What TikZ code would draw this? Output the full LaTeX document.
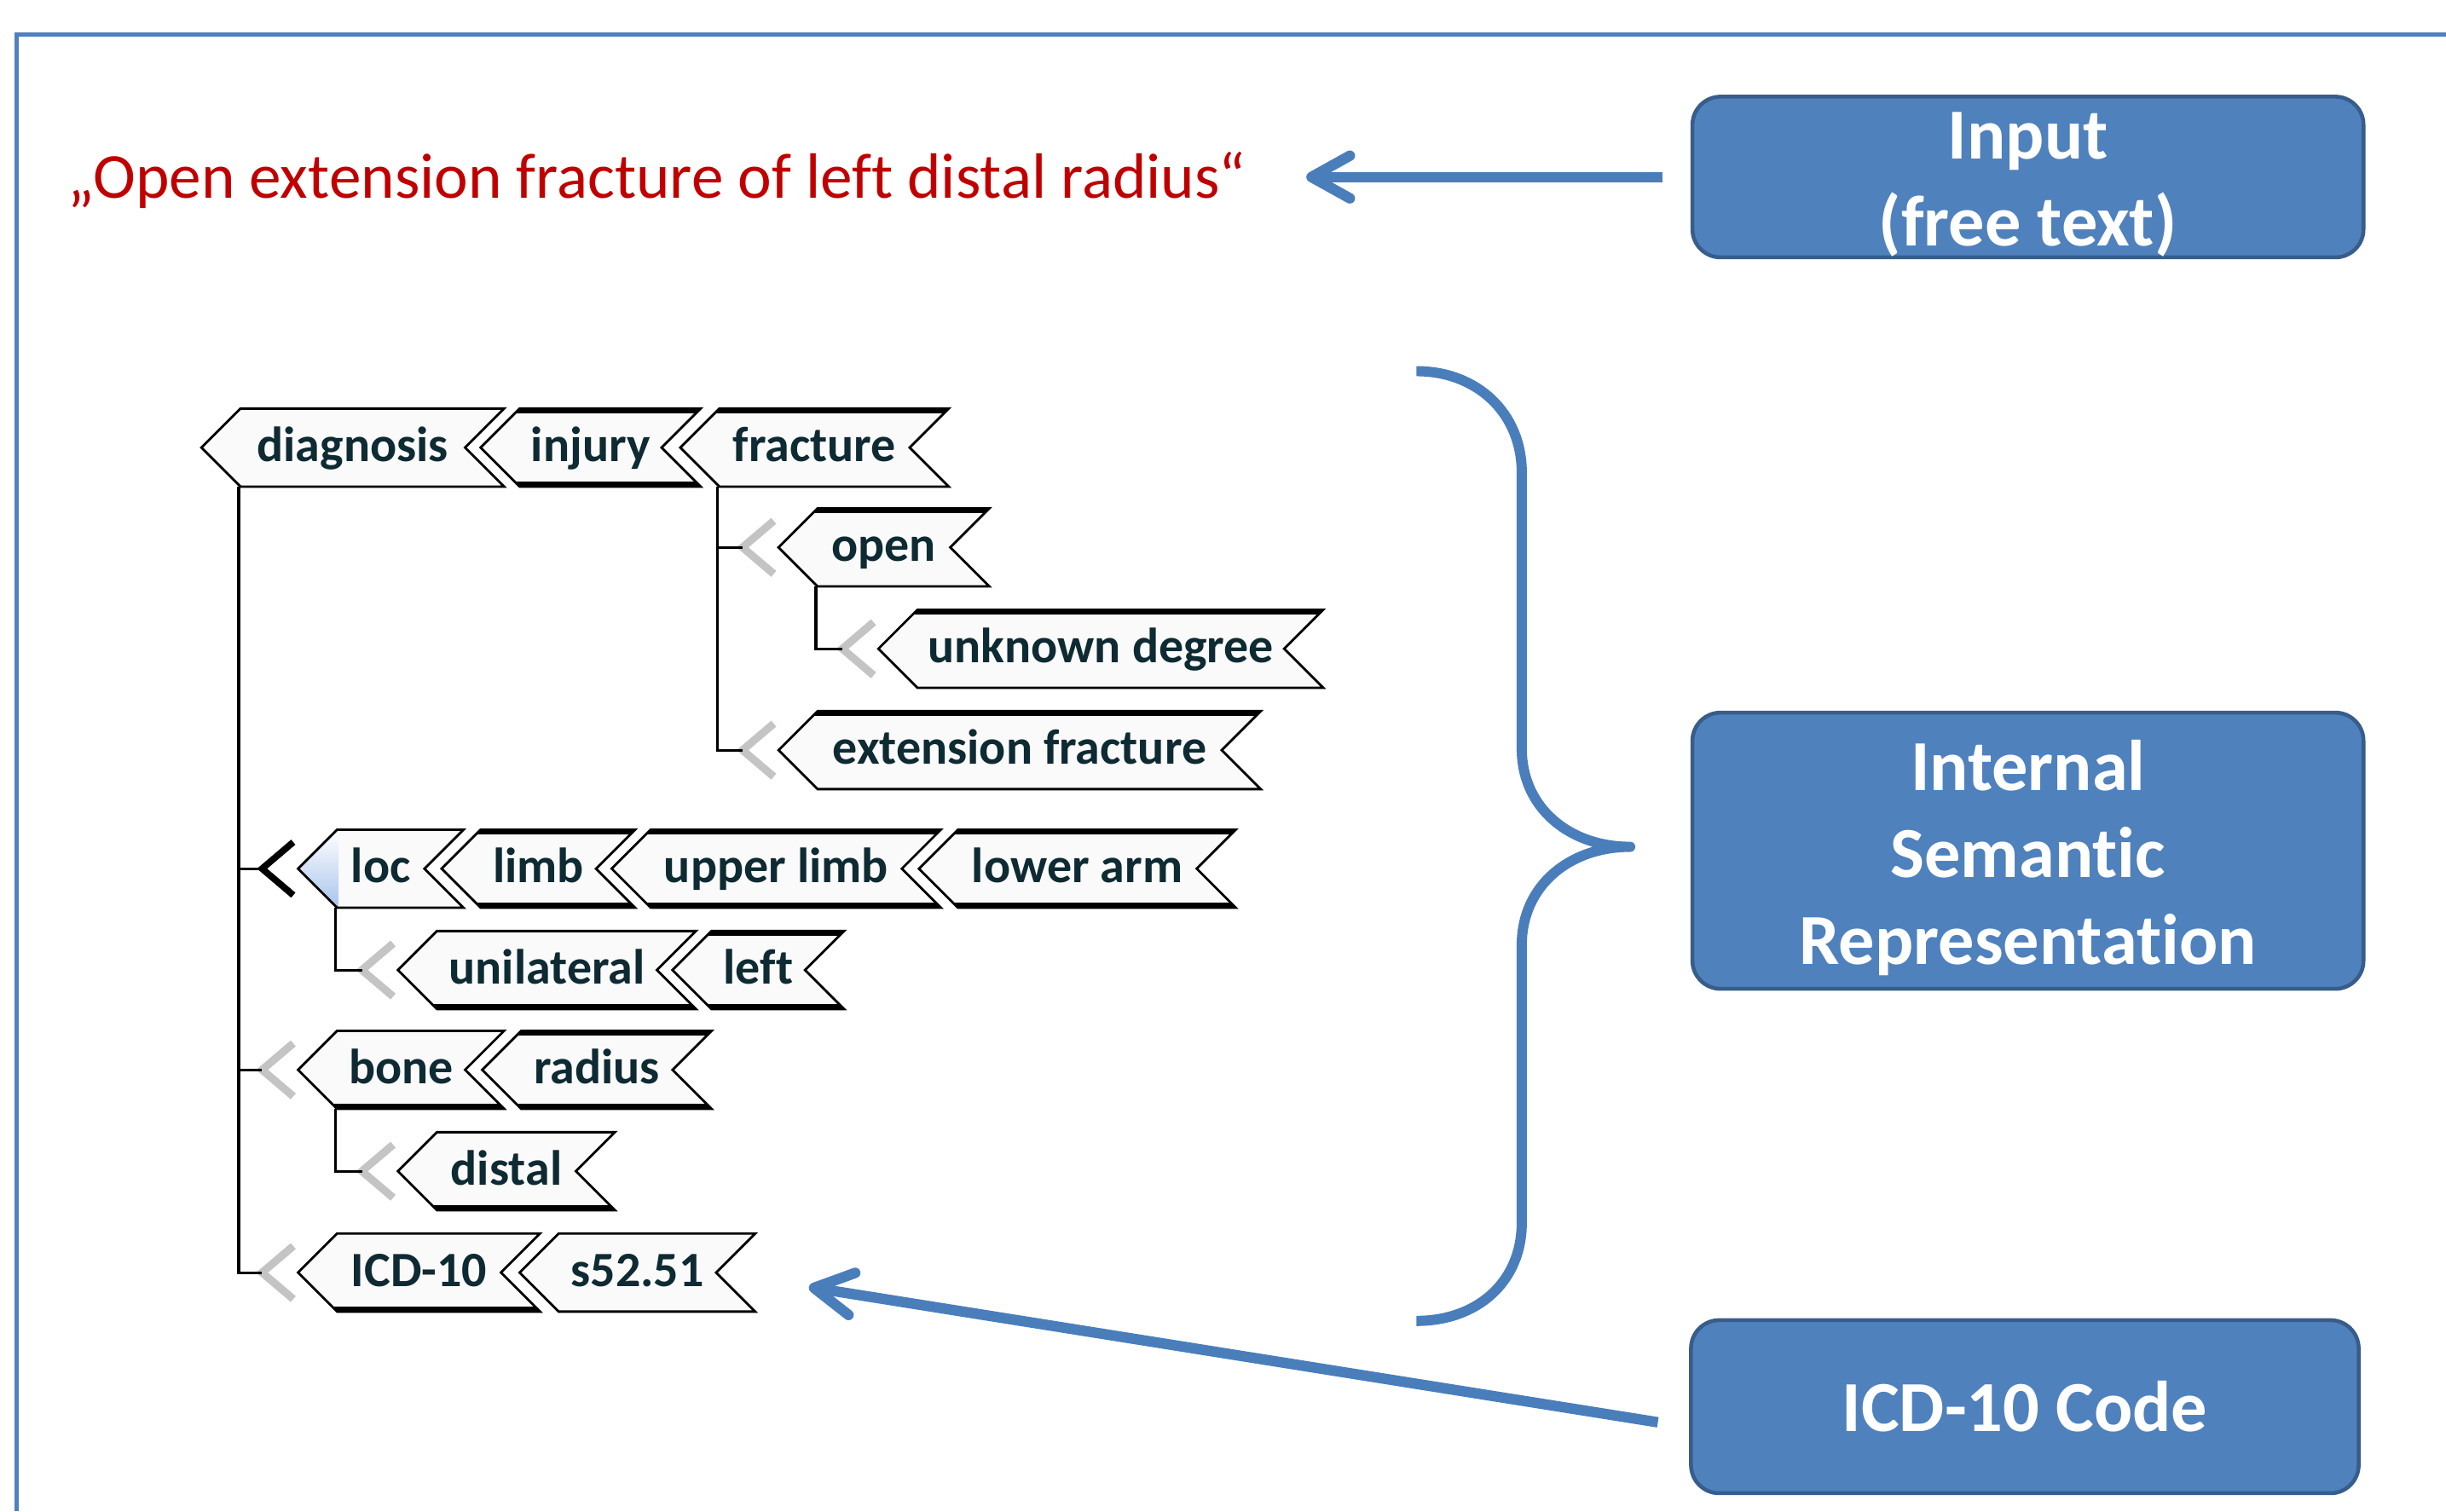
\documentclass[tikz,border=0pt]{standalone}
\usepackage{fontspec}
\setmainfont{Carlito}[Ligatures=NoCommon]
\usepackage{tikz}
\usetikzlibrary{arrows,arrows.meta,shapes,positioning,calc}
\usepackage{xcolor}
\definecolor{frameblue}{RGB}{79,129,189}
\definecolor{boxblue}{RGB}{79,129,189}
\definecolor{boxline}{RGB}{56,93,138}
\definecolor{arrowblue}{RGB}{74,126,187}
\definecolor{inputred}{RGB}{192,0,0}
\definecolor{tagtext}{RGB}{14,42,50}
\definecolor{tagfill}{RGB}{250,250,250}
\definecolor{chevgray}{RGB}{196,196,196}
\definecolor{locblue}{RGB}{168,196,236}
\tikzstyle{arrow} = [line width=3.5pt,-{Straight Barb[length=0.45cm,width=0.5cm,round]},color=arrowblue]
\tikzstyle{bluebox} = [rectangle, rounded corners=0.33cm, minimum width=7.87cm, inner ysep=0pt, draw=boxline, line width=1.3pt, fill=boxblue, text=white, align=center, font=\fontsize{24}{29}\selectfont\bfseries]
\tikzstyle{tag} = [signal, signal to=west, signal from=east, draw=black, line width=0.8pt, fill=tagfill, minimum height=0.915cm, inner xsep=0pt, inner ysep=0pt, anchor=west, text=tagtext, text height=12.6pt, text depth=3.1pt, font=\fontsize{16.5}{19}\selectfont\bfseries]
\tikzstyle{thicktb} = [path picture={\draw[black,line width=3.2pt] (path picture bounding box.north west) -- (path picture bounding box.north east) (path picture bounding box.south west) -- (path picture bounding box.south east);}]
\tikzstyle{thickt} = [path picture={\draw[black,line width=3.2pt] (path picture bounding box.north west) -- (path picture bounding box.north east);}]
\tikzstyle{thickb} = [path picture={\draw[black,line width=3.2pt] (path picture bounding box.south west) -- (path picture bounding box.south east);}]
\tikzstyle{locshade} = [path picture={\shade[top color=white,bottom color=locblue] (path picture bounding box.south west) rectangle ($(path picture bounding box.north west)+(26,0)$);}]
\tikzstyle{tree} = [line width=0.9pt, black]
\tikzstyle{chev} = [line width=2.6pt, chevgray]

\begin{document}
\begin{tikzpicture}[x=0.0183cm,y=-0.0183cm]
\useasboundingbox (0,0) rectangle (1568,969);
% Frame
\draw[frameblue, line width=1.4pt] (10.7,969) -- (10.7,21.9) -- (1568,21.9);

% Free text input
\node[font=\fontsize{21.4}{25}\selectfont, text=inputred, anchor=base west, inner sep=0pt] (txt) at (43,127) {„Open extension fracture of left distal radius“};

% Boxes on the right
\node[bluebox, minimum height=1.885cm] (inbox) at (1300,113.5) {\rule{0pt}{20.5pt}Input\\(free text)};
\node[bluebox, minimum height=3.24cm] (isr) at (1300,545.5) {\rule{0pt}{21.6pt}Internal\\Semantic\\Representation};
\node[bluebox, minimum height=2.03cm, minimum width=7.83cm] (icd) at (1298,902) {ICD-10 Code};

% Semantic tree
\node[tag, minimum width=3.550cm] (diag) at (128,287) {diagnosis};
\node[tag, thicktb, minimum width=2.580cm] (inj) at (307,287) {injury};
\node[tag, thickt, minimum width=3.148cm] (frac) at (435,287) {fracture};
\node[tag, thickt, minimum width=2.471cm] (opn) at (498,351) {open};
\node[tag, thickt, minimum width=5.216cm] (unk) at (562,416) {unknown degree};
\node[tag, thickt, minimum width=5.655cm] (ext) at (498,481) {extension fracture};
\node[tag, locshade, minimum width=1.940cm] (loc) at (190,557) {loc};
\node[tag, thicktb, minimum width=2.269cm] (limb) at (282,557) {limb};
\node[tag, thicktb, minimum width=3.861cm] (ulimb) at (391,557) {upper limb};
\node[tag, thicktb, minimum width=3.715cm] (larm) at (588,557) {lower arm};
\node[tag, thickb, minimum width=3.495cm] (unil) at (254,622) {unilateral};
\node[tag, thicktb, minimum width=2.013cm] (lft) at (430,622) {left};
\node[tag, thickb, minimum width=2.416cm] (bone) at (190,686) {bone};
\node[tag, thicktb, minimum width=2.690cm] (rad) at (308,686) {radius};
\node[tag, thickb, minimum width=2.544cm] (dist) at (254,751) {distal};
\node[tag, thickb, minimum width=2.837cm] (icdk) at (190,816) {ICD-10};
\node[tag, minimum width=2.763cm] (code) at (332,816) {s52.51};

% Child markers
\coordinate (m2) at (476,351);
\coordinate (m3) at (540,416);
\coordinate (m4) at (476,481);
\coordinate (m5) at (168,557);
\coordinate (m6) at (232,622);
\coordinate (m7) at (168,686);
\coordinate (m8) at (232,751);
\coordinate (m9) at (168,816);
\foreach \m in {m2,m3,m4,m6,m7,m8,m9}
  \draw[chev] ($(\m)+(20,-17)$) -- (\m) -- ($(\m)+(20,17)$);
\draw[chev, black, line width=2.2pt] ($(m5)+(20,-17)$) -- (m5) -- ($(m5)+(20,17)$);

% Tree lines
\foreach \m in {m5,m7,m9}
  \draw[tree] ($(diag.west)+(25,25)$) |- (\m);
\foreach \m in {m2,m4}
  \draw[tree] ($(frac.west)+(25,25)$) |- (\m);
\draw[tree] ($(opn.west)+(25,25)$) |- (m3);
\draw[tree] ($(loc.west)+(25,25)$) |- (m6);
\draw[tree] ($(bone.west)+(25,25)$) |- (m8);

% Brace
\draw[arrowblue, line width=3.4pt, line join=round] (908,238) .. controls (947,238) and (975.5,265) .. (975.5,303) -- (975.5,480) .. controls (975.5,518) and (1006,543) .. (1045,543) .. controls (1006,543) and (975.5,568) .. (975.5,606) -- (975.5,784) .. controls (975.5,822) and (947,847) .. (908,847);

% Arrows
\draw[arrow, shorten <=0.33cm, shorten >=0.70cm] (inbox.west) -- (inbox.west -| txt.east);
\draw[arrow, shorten >=1.08cm] ($(icd.west)+(-20,10)$) -- (code.east);
\end{tikzpicture}
\end{document}
